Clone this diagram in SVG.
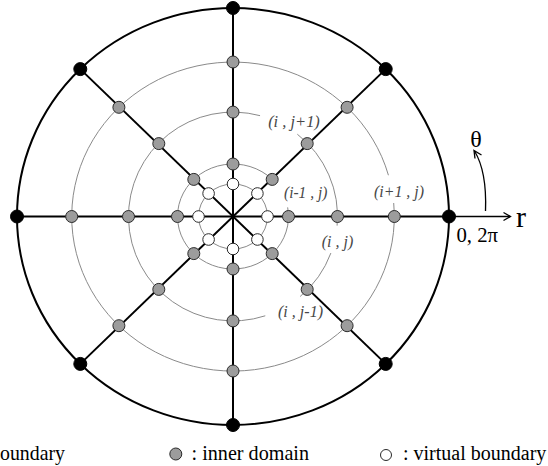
<svg xmlns="http://www.w3.org/2000/svg" width="548" height="466" viewBox="0 0 548 466">
<style>
.ring{fill:none;stroke:#8a8a8a;stroke-width:1}
.outer{fill:none;stroke:#000;stroke-width:2}
.spoke{stroke:#000;stroke-width:2;fill:none}
.ax{stroke:#000;stroke-width:1.3;fill:none}
.b{fill:#000;stroke:#000;stroke-width:1}
.g{fill:#9c9c9c;stroke:#2a2a2a;stroke-width:1}
.w{fill:#fff;stroke:#2a2a2a;stroke-width:1}
text{font-family:'Liberation Serif','Times New Roman','DejaVu Serif',serif}
.lab{font-style:italic;font-size:17px;fill:#474747;text-anchor:middle}
.leg{font-size:21px;fill:#000}
</style>
<rect width="548" height="466" fill="#fff"/>
<g id="connectors">
<ellipse class="ring" cx="233" cy="216.5" rx="34.5" ry="32.5"/>
<path class="ring" d="M272.24,179.38 A55.5,52.5 0 1 0 287.66,207.39"/>
<path class="ring" d="M260.05,115.66 A104.5,104.4 0 1 0 265.29,315.79"/>
<path class="ring" d="M300.17,296.47 A104.5,104.4 0 0 0 330.88,253.06"/>
<path class="ring" d="M337.10,225.60 A104.5,104.4 0 0 0 297.34,134.23"/>
<path class="ring" d="M388.43,175.22 A161.3,154.5 0 1 0 393.69,203.03"/>
<ellipse class="outer" cx="233" cy="216.5" rx="216" ry="208.5"/>
<line class="spoke" x1="17" y1="216.5" x2="449" y2="216.5"/>
<line class="spoke" x1="233" y1="8" x2="233" y2="425"/>
<line class="spoke" x1="80.3" y1="69.1" x2="385.7" y2="363.9"/>
<line class="spoke" x1="385.7" y1="69.1" x2="80.3" y2="363.9"/>
<line class="ax" x1="449" y1="216.5" x2="510" y2="216.5"/>
<polyline class="ax" points="503.5,212.5 510.5,216.5 503.5,220.5"/>
<path class="ax" d="M485.5,211 C486.5,185 483,165 474.5,151"/>
<polyline class="ax" points="475,158.5 474,150.5 481.5,155"/>
</g>
<g id="n5-0"><circle class="b" cx="449" cy="216.5" r="6.5"/></g>
<g id="n5-45"><circle class="b" cx="385.7" cy="69.1" r="6.5"/></g>
<g id="n5-90"><circle class="b" cx="233" cy="8" r="6.5"/></g>
<g id="n5-135"><circle class="b" cx="80.3" cy="69.1" r="6.5"/></g>
<g id="n5-180"><circle class="b" cx="17" cy="216.5" r="6.5"/></g>
<g id="n5-225"><circle class="b" cx="80.3" cy="363.9" r="6.5"/></g>
<g id="n5-270"><circle class="b" cx="233" cy="425" r="6.5"/></g>
<g id="n5-315"><circle class="b" cx="385.7" cy="363.9" r="6.5"/></g>
<g id="n4-0"><circle class="g" cx="394.3" cy="216.5" r="6"/></g>
<g id="n4-45"><circle class="g" cx="347.1" cy="107.3" r="6"/></g>
<g id="n4-90"><circle class="g" cx="233" cy="62" r="6"/></g>
<g id="n4-135"><circle class="g" cx="118.9" cy="107.3" r="6"/></g>
<g id="n4-180"><circle class="g" cx="71.7" cy="216.5" r="6"/></g>
<g id="n4-225"><circle class="g" cx="118.9" cy="325.7" r="6"/></g>
<g id="n4-270"><circle class="g" cx="233" cy="371" r="6"/></g>
<g id="n4-315"><circle class="g" cx="347.1" cy="325.7" r="6"/></g>
<g id="n3-0"><circle class="g" cx="337.5" cy="216.5" r="6"/></g>
<g id="n3-45"><circle class="g" cx="307.2" cy="143.6" r="6"/></g>
<g id="n3-90"><circle class="g" cx="233" cy="112.1" r="6"/></g>
<g id="n3-135"><circle class="g" cx="158.8" cy="143.6" r="6"/></g>
<g id="n3-180"><circle class="g" cx="128.5" cy="216.5" r="6"/></g>
<g id="n3-225"><circle class="g" cx="158.8" cy="289.4" r="6"/></g>
<g id="n3-270"><circle class="g" cx="233" cy="320.9" r="6"/></g>
<g id="n3-315"><circle class="g" cx="307.2" cy="289.4" r="6"/></g>
<g id="n2-0"><circle class="g" cx="288.5" cy="216.5" r="6"/></g>
<g id="n2-45"><circle class="g" cx="272.2" cy="179.4" r="6"/></g>
<g id="n2-90"><circle class="g" cx="233" cy="164" r="6"/></g>
<g id="n2-135"><circle class="g" cx="193.8" cy="179.4" r="6"/></g>
<g id="n2-180"><circle class="g" cx="177.5" cy="216.5" r="6"/></g>
<g id="n2-225"><circle class="g" cx="193.8" cy="253.6" r="6"/></g>
<g id="n2-270"><circle class="g" cx="233" cy="269" r="6"/></g>
<g id="n2-315"><circle class="g" cx="272.2" cy="253.6" r="6"/></g>
<g id="n1-0"><circle class="w" cx="267.5" cy="216.5" r="5.8"/></g>
<g id="n1-45"><circle class="w" cx="257.4" cy="193.5" r="5.8"/></g>
<g id="n1-90"><circle class="w" cx="233" cy="184" r="5.8"/></g>
<g id="n1-135"><circle class="w" cx="208.6" cy="193.5" r="5.8"/></g>
<g id="n1-180"><circle class="w" cx="198.5" cy="216.5" r="5.8"/></g>
<g id="n1-225"><circle class="w" cx="208.6" cy="239.5" r="5.8"/></g>
<g id="n1-270"><circle class="w" cx="233" cy="249" r="5.8"/></g>
<g id="n1-315"><circle class="w" cx="257.4" cy="239.5" r="5.8"/></g>
<g id="labels">
<text class="lab" x="294" y="126.5" textLength="51.7" lengthAdjust="spacingAndGlyphs">(i , j+1)</text>
<text class="lab" x="305.7" y="198.3" textLength="43.3" lengthAdjust="spacingAndGlyphs">(i-1 , j)</text>
<text class="lab" x="399" y="196.7" textLength="50" lengthAdjust="spacingAndGlyphs">(i+1 , j)</text>
<text class="lab" x="337.5" y="246.7" textLength="31.6" lengthAdjust="spacingAndGlyphs">(i , j)</text>
<text class="lab" x="300.5" y="317" textLength="45" lengthAdjust="spacingAndGlyphs">(i , j-1)</text>
<text x="476" y="146.5" font-size="24" text-anchor="middle">θ</text>
<text x="516" y="227" font-size="30">r</text>
<text x="456.5" y="241.7" font-size="21" textLength="41.6" lengthAdjust="spacingAndGlyphs">0, 2π</text>
</g>
<g id="legend">
<text class="leg" x="0" y="460" textLength="65" lengthAdjust="spacingAndGlyphs">oundary</text>
<circle class="g" cx="175.8" cy="454" r="6"/>
<text class="leg" x="191.5" y="460" textLength="117.5" lengthAdjust="spacingAndGlyphs">: inner domain</text>
<circle class="w" cx="386" cy="455" r="5.5"/>
<text x="403" y="460" font-size="20">: virtual boundary</text>
</g>
</svg>
